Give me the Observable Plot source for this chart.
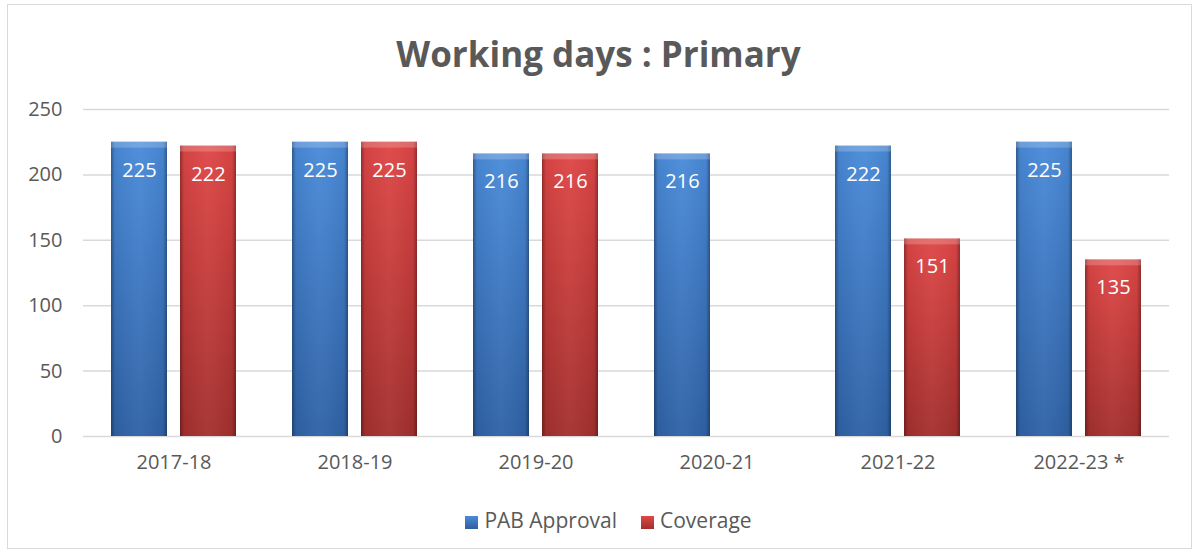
<!DOCTYPE html>
<html>
<head>
<meta charset="utf-8">
<script src="https://cdn.jsdelivr.net/npm/d3@7"></script>
<script src="https://cdn.jsdelivr.net/npm/@observablehq/plot@0.6"></script>
<style>
  html, body { margin: 0; padding: 0; background: #fff; }
  #frame { position: absolute; left: 7px; top: 4px; width: 1185px; height: 545px; border: 1px solid #d9d9d9; box-sizing: border-box; }
  #title { position: absolute; left: 0; top: 29px; width: 1197px; text-align: center; font-family: "Open Sans", sans-serif; font-weight: 700; font-size: 35px; line-height: 50px; color: #595959; }
  #chart { position: absolute; left: 0; top: 0; }
  #legend { position: absolute; left: 20px; top: 505px; width: 1177px; text-align: center; font-family: "Open Sans", sans-serif; font-size: 21px; color: #595959; line-height: 30px; }
  .item { display: inline-block; margin: 0 12px; }
  .sw { display: inline-block; width: 13px; height: 13px; margin-right: 6px; vertical-align: -1px; }
</style>
</head>
<body>
<div id="frame"></div>
<div id="title">Working days : Primary</div>
<div id="chart"></div>
<div id="legend"></div>
<script>
const years = ["2017-18", "2018-19", "2019-20", "2020-21", "2021-22", "2022-23 *"];
const pabApproval = [225, 225, 216, 216, 222, 225];
const coverage = [222, 225, 216, null, 151, 135];
const seriesNames = ["PAB Approval", "Coverage"];
const yTicks = [0, 50, 100, 150, 200, 250];

const seriesFill = {"PAB Approval": "url(#gBlue)", "Coverage": "url(#gRed)"};
const legendCss = {
  "PAB Approval": "linear-gradient(to bottom, #4a8bd9, #2e5f9f)",
  "Coverage": "linear-gradient(to bottom, #e04848, #a02e2c)"
};

const rows = years.flatMap((yr, i) => [
  {year: yr, series: seriesNames[0], value: pabApproval[i]},
  {year: yr, series: seriesNames[1], value: coverage[i]}
]).filter(d => d.value != null);

const blueRows = rows.filter(d => d.series === seriesNames[0]);
const redRows = rows.filter(d => d.series === seriesNames[1]);

const plot = Plot.plot({
  width: 1197,
  height: 480,
  marginLeft: 81,
  marginRight: 26,
  marginTop: 109,
  marginBottom: 44,
  style: {fontFamily: "Open Sans, sans-serif", fontSize: "20px", color: "#595959", background: "transparent"},
  fx: {domain: years, padding: 0, label: null},
  x: {domain: seriesNames, paddingInner: 0.187, paddingOuter: 0.40, axis: null},
  y: {domain: [0, 250], label: null},
  marks: [
    Plot.gridY(yTicks, {stroke: "#d9d9d9", strokeOpacity: 1, strokeWidth: 1.5}),
    Plot.axisY(yTicks, {tickSize: 0, tickPadding: 21, fontSize: 20, fill: "#595959", label: null}),
    Plot.axisFx({anchor: "bottom", tickSize: 0, tickPadding: 18, fontSize: 20, fill: "#595959", label: null}),
    Plot.barY(blueRows, {fx: "year", x: "series", y: "value", fill: seriesFill["PAB Approval"]}),
    Plot.barY(redRows, {fx: "year", x: "series", y: "value", fill: seriesFill["Coverage"]}),
    Plot.barY(rows, {fx: "year", x: "series", y: "value", fill: "url(#gEdge)"}),
    Plot.barY(rows, {fx: "year", x: "series", y1: d => d.value - 4.5, y2: "value", fill: "white", fillOpacity: 0.2}),
    Plot.text(rows, {fx: "year", x: "series", y: "value", text: d => String(d.value), dy: 28, fill: "white", fontSize: 20})
  ]
});

d3.select(plot).insert("defs", ":first-child").html(`
  <linearGradient id="gBlue" x1="0" y1="0" x2="0" y2="1">
    <stop offset="0" stop-color="#4a8bd9"/>
    <stop offset="1" stop-color="#2f62a6"/>
  </linearGradient>
  <linearGradient id="gRed" x1="0" y1="0" x2="0" y2="1">
    <stop offset="0" stop-color="#df4646"/>
    <stop offset="1" stop-color="#a3302e"/>
  </linearGradient>
  <linearGradient id="gEdge" x1="0" y1="0" x2="1" y2="0">
    <stop offset="0" stop-color="#000" stop-opacity="0.35"/>
    <stop offset="0.07" stop-color="#000" stop-opacity="0.05"/>
    <stop offset="0.5" stop-color="#fff" stop-opacity="0.04"/>
    <stop offset="0.93" stop-color="#000" stop-opacity="0.05"/>
    <stop offset="1" stop-color="#000" stop-opacity="0.35"/>
  </linearGradient>
`);

document.getElementById("chart").appendChild(plot);

const legend = document.getElementById("legend");
seriesNames.forEach(name => {
  const item = document.createElement("span");
  item.className = "item";
  const sw = document.createElement("span");
  sw.className = "sw";
  sw.style.background = legendCss[name];
  item.appendChild(sw);
  item.appendChild(document.createTextNode(name));
  legend.appendChild(item);
});
</script>
</body>
</html>
